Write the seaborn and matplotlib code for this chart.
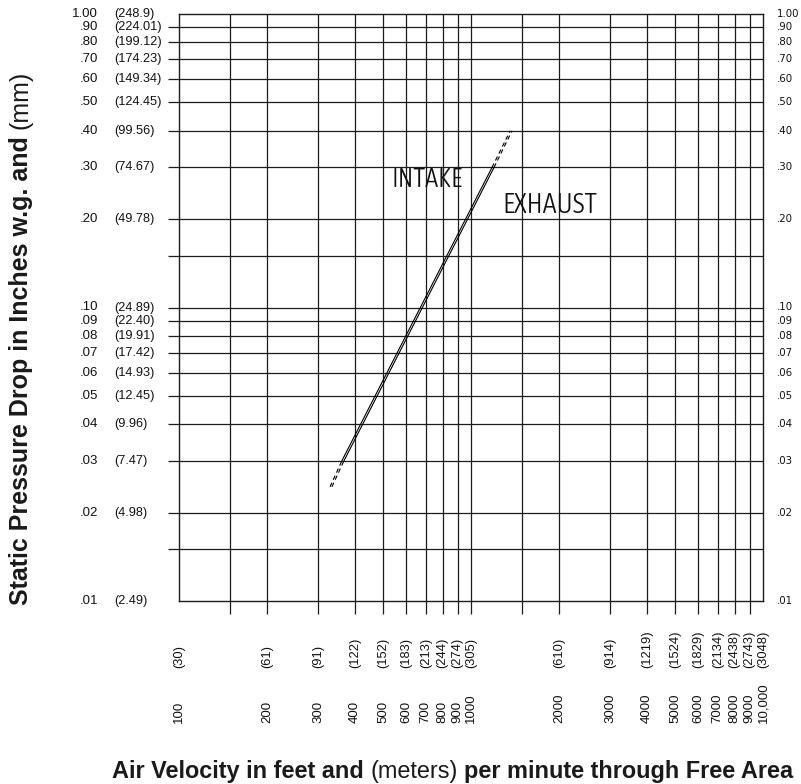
import numpy as np
import pandas as pd
import seaborn as sns
import matplotlib
matplotlib.use("Agg")
import matplotlib.pyplot as plt
import matplotlib.transforms as mtransforms
from matplotlib.ticker import FixedLocator, NullLocator, NullFormatter
from matplotlib import font_manager as fm

# ---------------- data ----------------
fpm_grid_inner = [150, 200, 300, 400, 500, 600, 700, 800, 900, 1000,
                  1500, 2000, 3000, 4000, 5000, 6000, 7000, 8000, 9000]
fpm_label_pos = [100, 200, 300, 400, 500, 600, 700, 800, 900, 1000,
                 2000, 3000, 4000, 5000, 6000, 7000, 8000, 9000, 10000]
fpm_labels = ["100", "200", "300", "400", "500", "600", "700", "800", "900", "1000",
              "2000", "3000", "4000", "5000", "6000", "7000", "8000", "9000", "10,000"]
mpm_labels = ["(30)", "(61)", "(91)", "(122)", "(152)", "(183)", "(213)", "(244)", "(274)", "(305)",
              "(610)", "(914)", "(1219)", "(1524)", "(1829)", "(2134)", "(2438)", "(2743)", "(3048)"]

inwg_grid_inner = [0.015, 0.02, 0.03, 0.04, 0.05, 0.06, 0.07, 0.08, 0.09, 0.10,
                   0.15, 0.20, 0.30, 0.40, 0.50, 0.60, 0.70, 0.80, 0.90]
inwg_label_pos = [1.0, 0.9, 0.8, 0.7, 0.6, 0.5, 0.4, 0.3, 0.2,
                  0.1, 0.09, 0.08, 0.07, 0.06, 0.05, 0.04, 0.03, 0.02, 0.01]
inwg_labels = ["1.00", ".90", ".80", ".70", ".60", ".50", ".40", ".30", ".20",
               ".10", ".09", ".08", ".07", ".06", ".05", ".04", ".03", ".02", ".01"]
mm_labels = ["(248.9)", "(224.01)", "(199.12)", "(174.23)", "(149.34)", "(124.45)", "(99.56)",
             "(74.67)", "(49.78)", "(24.89)", "(22.40)", "(19.91)", "(17.42)", "(14.93)",
             "(12.45)", "(9.96)", "(7.47)", "(4.98)", "(2.49)"]

intake_solid_fpm = [361, 1180]
intake_solid_in = [0.030, 0.300]
intake_low_fpm = [329, 361]
intake_low_in = [0.0245, 0.030]
intake_high_fpm = [1180, 1362]
intake_high_in = [0.300, 0.400]

exhaust_solid_fpm = [367, 1199]
exhaust_solid_in = [0.030, 0.300]
exhaust_low_fpm = [334, 367]
exhaust_low_in = [0.0245, 0.030]
exhaust_high_fpm = [1199, 1382]
exhaust_high_in = [0.300, 0.400]

# ---------------- style ----------------
sns.set_style("white")
plt.rcParams["font.family"] = ["Liberation Sans", "DejaVu Sans"]

W, H = 801, 784
fig = plt.figure(figsize=(W / 100, H / 100), dpi=100)
fig.patch.set_facecolor("white")
L, R, T, B = 179, 763, 14, 601
ax = fig.add_axes([L / W, (H - B) / H, (R - L) / W, (B - T) / H])
ax.set_xscale("log")
ax.set_yscale("log")
ax.set_xlim(100, 10000)
ax.set_ylim(0.01, 1.0)

ax.xaxis.set_major_locator(FixedLocator(fpm_grid_inner))
ax.yaxis.set_major_locator(FixedLocator(inwg_grid_inner))
ax.xaxis.set_minor_locator(NullLocator())
ax.yaxis.set_minor_locator(NullLocator())
ax.xaxis.set_major_formatter(NullFormatter())
ax.yaxis.set_major_formatter(NullFormatter())
ax.grid(True, which="major", color="#1c1c1c", lw=0.9)
ax.tick_params(axis="x", which="major", direction="out", length=9, width=0.9,
               color="#1c1c1c", bottom=True, top=False, labelbottom=False)
ax.tick_params(axis="y", which="major", direction="out", length=8, width=0.9,
               color="#1c1c1c", left=True, right=False, labelleft=False)
for s in ax.spines.values():
    s.set_visible(True)
    s.set_color("#1c1c1c")
    s.set_linewidth(1.0)

# ---------------- lines ----------------
lw = 0.8
dash = (0, (4, 3))
for xs, ys, ls in [(intake_solid_fpm, intake_solid_in, "-"),
                   (intake_low_fpm, intake_low_in, dash),
                   (intake_high_fpm, intake_high_in, dash),
                   (exhaust_solid_fpm, exhaust_solid_in, "-"),
                   (exhaust_low_fpm, exhaust_low_in, dash),
                   (exhaust_high_fpm, exhaust_high_in, dash)]:
    sns.lineplot(x=xs, y=ys, ax=ax, color="black", linewidth=lw, linestyle=ls)
ax.set_xlabel("")
ax.set_ylabel("")

renderer = fig.canvas.get_renderer()

# ---------------- tick labels ----------------
tx = mtransforms.blended_transform_factory(ax.transData, fig.transFigure)
for v, lab, mlab in zip(fpm_label_pos, fpm_labels, mpm_labels):
    ax.text(v, (H - 723) / H, lab, rotation=90, ha="center", va="bottom",
            transform=tx, fontsize=9.5, color="#111111", clip_on=False)
    ax.text(v, (H - 668) / H, mlab, rotation=90, ha="center", va="bottom",
            transform=tx, fontsize=9.3, color="#111111", clip_on=False)

ty = mtransforms.blended_transform_factory(fig.transFigure, ax.transData)
for v, lab, mlab in zip(inwg_label_pos, inwg_labels, mm_labels):
    ax.text(98 / W, v, lab, ha="right", va="center", transform=ty,
            fontsize=9.5, color="#111111", clip_on=False)
    ax.text(114 / W, v, mlab, ha="left", va="center", transform=ty,
            fontsize=9.2, color="#111111", clip_on=False)
    ax.text(777 / W, v, lab, ha="left", va="center", transform=ty,
            fontsize=7.4, color="#111111", clip_on=False, family="DejaVu Sans")

# ---------------- INTAKE / EXHAUST labels ----------------
WMAP = {"thin": 100, "hairline": 100, "ultralight": 200, "extralight": 200, "light": 300,
        "normal": 400, "regular": 400, "book": 400, "medium": 500, "semibold": 600,
        "demibold": 600, "bold": 700, "extrabold": 800, "heavy": 900, "black": 900}


def _w(w):
    if isinstance(w, (int, float)):
        return w
    return WMAP.get(str(w).lower(), 400)


def _cond(f):
    n = f.name.lower()
    if "narrow" in n or "condensed" in n:
        return True
    s = f.stretch
    if isinstance(s, (int, float)):
        return s < 100
    return "condensed" in str(s).lower()


best = None
for f in fm.fontManager.ttflist:
    n = f.name.lower()
    if f.style != "normal" or "mono" in n or "cjk" in n or "serif" in n:
        continue
    score = (0 if _cond(f) else 10) + abs(_w(f.weight) - 300) / 100.0
    if best is None or score < best[0]:
        best = (score, f.fname)
label_fp = fm.FontProperties(fname=best[1]) if best else fm.FontProperties(family="DejaVu Sans")


def fitted_text(x, y, s, target_px):
    t = ax.text(x, y, s, fontproperties=label_fp.copy(), fontsize=20, ha="left",
                va="center", color="#111111")
    w = t.get_window_extent(renderer).width
    t.set_fontsize(20 * target_px / w)
    return t


fitted_text(536, 0.272, "INTAKE", 71)
fitted_text(1277, 0.222, "EXHAUST", 95)

# ---------------- axis titles (mixed bold / regular) ----------------


def chain_h(parts, x_px, base_px, fs):
    x = x_px
    for s, wt in parts:
        t = fig.text(x / W, base_px / H, s, ha="left", va="baseline",
                     fontsize=fs, weight=wt, color="#1a1a1a")
        bb = t.get_window_extent(renderer)
        x = bb.x1 + fs * 100 / 72 * 0.27


def chain_v(parts, x_px, y_px, fs):
    y = y_px
    for s, wt in parts:
        t = fig.text(x_px / W, y / H, s, ha="left", va="baseline", rotation=90,
                     rotation_mode="anchor", fontsize=fs, weight=wt, color="#1a1a1a")
        bb = t.get_window_extent(renderer)
        y = bb.y1 + fs * 100 / 72 * 0.27


chain_h([("Air Velocity in feet and", "bold"), ("(meters)", "normal"),
         ("per minute through Free Area", "bold")], 112, H - 778, 16.9)
chain_v([("Static Pressure Drop in Inches w.g. and", "bold"), ("(mm)", "normal")],
        28, H - 605, 18)

fig.savefig("out.png", dpi=100, facecolor="white")
